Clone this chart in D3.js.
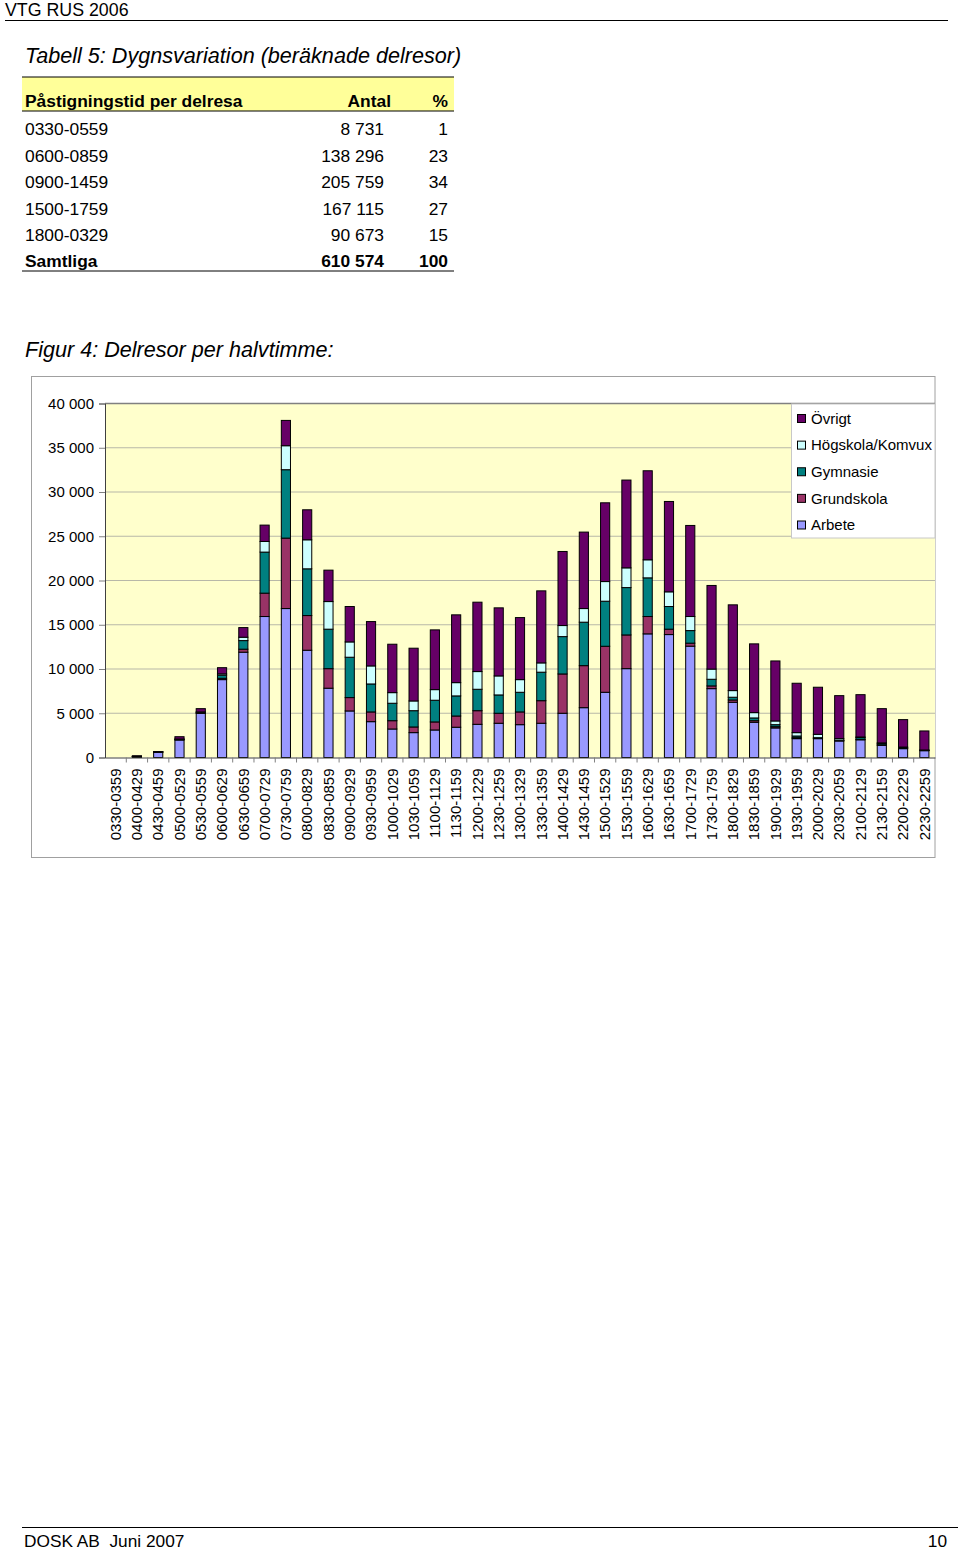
<!DOCTYPE html>
<html><head><meta charset="utf-8">
<script src="https://cdn.jsdelivr.net/npm/d3@7"></script>
<style>body{margin:0;background:#fff}svg{display:block;font-family:"Liberation Sans",Arial,sans-serif}</style>
</head><body><svg id="c" width="960" height="1550"></svg>
<script>
const categories = ["0330-0359","0400-0429","0430-0459","0500-0529","0530-0559","0600-0629","0630-0659","0700-0729","0730-0759","0800-0829","0830-0859","0900-0929","0930-0959","1000-1029","1030-1059","1100-1129","1130-1159","1200-1229","1230-1259","1300-1329","1330-1359","1400-1429","1430-1459","1500-1529","1530-1559","1600-1629","1630-1659","1700-1729","1730-1759","1800-1829","1830-1859","1900-1929","1930-1959","2000-2029","2030-2059","2100-2129","2130-2159","2200-2229","2230-2259"];
const arbete     = [0,80,600,1980,5000,8800,11900,15930,16830,12120,7830,5260,4050,3220,2810,3110,3420,3750,3870,3710,3870,5000,5630,7370,10040,13970,13890,12580,7780,6240,3980,3340,2130,2130,1870,2000,1380,1000,770];
const grundskola = [0,10,10,30,40,150,340,2640,7960,3920,2210,1510,1100,940,640,910,1270,1540,1130,1440,2550,4440,4750,5200,3810,1960,610,340,310,260,180,140,110,40,30,60,60,40,20];
const gymnasie   = [0,20,20,60,80,350,970,4640,7730,5280,4460,4560,3160,1970,1840,2450,2270,2420,2070,2220,3220,4220,4910,5090,5350,4370,2560,1420,750,310,310,230,190,70,50,200,150,100,40];
const hogskola   = [0,10,10,20,30,150,380,1200,2710,3280,3120,1730,2040,1200,1100,1200,1500,2000,2150,1430,1050,1250,1540,2220,2230,2040,1660,1590,1150,750,600,420,380,380,180,60,60,40,20];
const ovrigt     = [0,80,30,260,370,700,1090,1850,2860,3390,3550,4000,5010,5470,5960,6750,7660,7840,7690,7010,8140,8370,8640,8900,9920,10060,10210,10290,9450,9690,7770,6780,5580,5320,4860,4780,3870,3100,2150];
const seriesNames  = ["Arbete","Grundskola","Gymnasie","Högskola/Komvux","Övrigt"];
const seriesColors = ["#9999FF","#993366","#008080","#CCFFFF","#660066"];
const yTicks = [0,5000,10000,15000,20000,25000,30000,35000,40000];

const tableHeader = ["Påstigningstid per delresa","Antal","%"];
const tableLabels = ["0330-0559","0600-0859","0900-1459","1500-1759","1800-0329","Samtliga"];
const tableAntal  = ["8 731","138 296","205 759","167 115","90 673","610 574"];
const tablePct    = ["1","23","34","27","15","100"];

const svg = d3.select("#c");

// page header
svg.append("text").attr("x",5).attr("y",16).attr("font-size",17.8).text("VTG RUS 2006");
svg.append("line").attr("x1",5).attr("x2",948).attr("y1",20.5).attr("y2",20.5).attr("stroke","#000").attr("stroke-width",1.2);

// table
svg.append("text").attr("x",25).attr("y",63).attr("font-size",21.6).attr("font-style","italic")
  .text("Tabell 5: Dygnsvariation (beräknade delresor)");
svg.append("rect").attr("x",22).attr("y",77).attr("width",432).attr("height",34).attr("fill","#FFFF99");
[77,111,271].forEach(y=>svg.append("line").attr("x1",22).attr("x2",454).attr("y1",y).attr("y2",y).attr("stroke","#000").attr("stroke-width",1));
const th = svg.append("g").attr("font-size",17.4).attr("font-weight","bold");
th.append("text").attr("x",25).attr("y",107).text(tableHeader[0]);
th.append("text").attr("x",391).attr("y",107).attr("text-anchor","end").text(tableHeader[1]);
th.append("text").attr("x",448).attr("y",107).attr("text-anchor","end").text(tableHeader[2]);
const rowY = [135,161.5,188,214.5,241,267];
tableLabels.forEach((lab,i)=>{
  const g = svg.append("g").attr("font-size",17.4).attr("font-weight", i===tableLabels.length-1?"bold":"normal");
  g.append("text").attr("x",25).attr("y",rowY[i]).text(lab);
  g.append("text").attr("x",384).attr("y",rowY[i]).attr("text-anchor","end").text(tableAntal[i]);
  g.append("text").attr("x",448).attr("y",rowY[i]).attr("text-anchor","end").text(tablePct[i]);
});

// figure title
svg.append("text").attr("x",25).attr("y",357).attr("font-size",21.6).attr("font-style","italic")
  .text("Figur 4: Delresor per halvtimme:");

// chart box
svg.append("rect").attr("x",31.5).attr("y",376.5).attr("width",903.5).attr("height",481).attr("fill","#fff").attr("stroke","#a0a0a0");

const L=105, R=935, T=403.5, B=757.5;
const x = d3.scaleBand().domain(categories).range([L,R]).padding(0);
const y = d3.scaleLinear().domain([0,40000]).range([B,T]);

svg.append("rect").attr("x",L).attr("y",T).attr("width",R-L).attr("height",B-T).attr("fill","#FFFFCC");
// grid
svg.append("g").selectAll("line").data(yTicks.filter(d=>d>0)).join("line")
  .attr("x1",L).attr("x2",R).attr("y1",d=>y(d)).attr("y2",d=>y(d))
  .attr("stroke", d=>d===40000?"#808080":"#b8b8a8").attr("stroke-width",d=>d===40000?1.5:1.2);

// stacked bars
const rows = categories.map((c,i)=>({cat:c,Arbete:arbete[i],Grundskola:grundskola[i],Gymnasie:gymnasie[i],"Högskola/Komvux":hogskola[i],"Övrigt":ovrigt[i]}));
const stack = d3.stack().keys(seriesNames)(rows);
const bw = x.bandwidth()*0.43;
svg.append("g").selectAll("g").data(stack).join("g").attr("fill",(d,i)=>seriesColors[i])
  .selectAll("rect").data(d=>d.filter(s=>s[1]-s[0]>0)).join("rect")
  .attr("x",d=>x(d.data.cat)+(x.bandwidth()-bw)/2).attr("width",bw)
  .attr("y",d=>y(d[1])).attr("height",d=>y(d[0])-y(d[1]))
  .attr("stroke","#000").attr("stroke-width",1);

// axes
const fmt = d3.formatLocale({decimal:",",thousands:" ",grouping:[3],currency:["",""]}).format(",");
const yAxis = svg.append("g").attr("transform",`translate(${L},0)`)
  .call(d3.axisLeft(y).tickValues(yTicks).tickFormat(fmt).tickSize(6).tickPadding(5));
yAxis.select(".domain").attr("stroke","#404040");
yAxis.selectAll(".tick line").attr("stroke","#808080");
yAxis.selectAll("text").attr("font-size",15).attr("fill","#000").attr("font-family","Liberation Sans, Arial, sans-serif");

const xAxis = svg.append("g").attr("transform",`translate(0,${B})`)
  .call(d3.axisBottom(x).tickSize(0).tickPadding(0));
xAxis.select(".domain").attr("stroke","#404040");
xAxis.selectAll(".tick text").attr("font-size",15).attr("fill","#000").attr("font-family","Liberation Sans, Arial, sans-serif")
  .attr("transform","rotate(-90)").attr("text-anchor","end").attr("x",-11).attr("y",0).attr("dy","0.35em");
// boundary ticks between categories
svg.append("g").selectAll("line").data(categories.slice(1)).join("line")
  .attr("x1",d=>x(d)).attr("x2",d=>x(d)).attr("y1",B).attr("y2",B+5).attr("stroke","#808080");

// legend
const lg = svg.append("g");
lg.append("rect").attr("x",791.5).attr("y",404).attr("width",143.5).attr("height",134).attr("fill","#fff").attr("stroke","#c8c8c8");
const legendOrder = seriesNames.map((n,i)=>({n,c:seriesColors[i]})).reverse();
const ly = d3.scalePoint().domain(legendOrder.map(d=>d.n)).range([418.5,525]);
lg.selectAll("rect.sw").data(legendOrder).join("rect").attr("class","sw")
  .attr("x",797.5).attr("y",d=>ly(d.n)-4).attr("width",8).attr("height",8).attr("fill",d=>d.c).attr("stroke","#000");
lg.selectAll("text").data(legendOrder).join("text")
  .attr("x",811).attr("y",d=>ly(d.n)).attr("dy","0.35em").attr("font-size",15).text(d=>d.n);

// footer
svg.append("line").attr("x1",22).attr("x2",958).attr("y1",1527.5).attr("y2",1527.5).attr("stroke","#000").attr("stroke-width",1.2);
svg.append("text").attr("x",24).attr("y",1547).attr("font-size",17.3).style("white-space","pre").text("DOSK AB  Juni 2007");
svg.append("text").attr("x",947).attr("y",1547).attr("font-size",17.3).attr("text-anchor","end").text("10");
</script></body></html>
